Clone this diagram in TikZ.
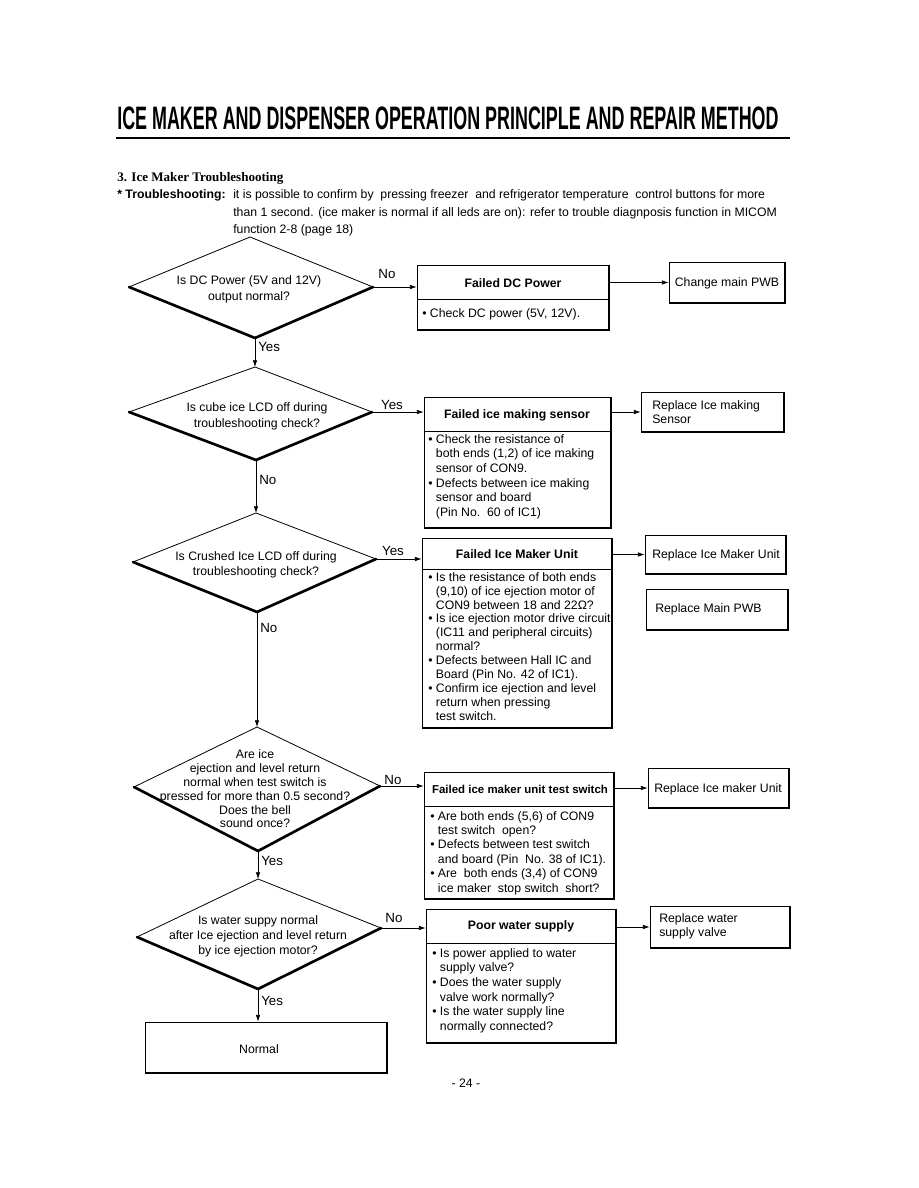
\documentclass[tikz,border=0pt]{standalone}
\usepackage{fontspec}
\setmainfont{Liberation Sans}
\newfontfamily\serifbold{Liberation Serif}
\usetikzlibrary{arrows.meta,fit,calc}
\newcommand\shbox[5]{%
  \node[fit={(#2,#3)(#4,#5)}, boxframe] (#1) {};
  \draw[line width=1.4pt] (#1.north east) -- (#1.south east) -- (#1.south west);}
\newcommand\diam[5]{%
  \draw[line width=0.6pt] (#3) -- (#2) -- (#4);
  \draw[line width=2pt, line join=round, line cap=round] (#3) -- (#5) -- (#4);}
\newcommand\ind{\hphantom{•\ }}
\begin{document}
\begin{tikzpicture}[x=0.75pt,y=-0.75pt,
  arr/.style={-{Latex[length=5pt,width=3.4pt]}, line width=0.5pt},
  boxframe/.style={draw, line width=0.6pt, inner sep=0pt},
  body/.style={font=\fontsize{9.2}{11}\selectfont, inner sep=0pt, align=left, anchor=north west},
  ctext/.style={font=\fontsize{9.2}{11}\selectfont, inner sep=0pt, align=center},
  btitle/.style={font=\fontsize{9.2}{11}\selectfont\bfseries, inner sep=0pt},
  lab/.style={font=\fontsize{10}{12}\selectfont, inner sep=0pt}]
\fill[white] (0,0) rectangle (918,1188);
\useasboundingbox (0,0) rectangle (918,1188);

% ---- header
\node[anchor=base west, inner sep=0pt] (title) at (117,129)
  {\resizebox{496pt}{17pt}{\bfseries ICE MAKER AND DISPENSER OPERATION PRINCIPLE AND REPAIR METHOD}};
\draw[line width=2.2pt] (116,138) -- (790,138);
\node[anchor=base west, inner sep=0pt] (sec) at (117,181)
  {\serifbold\bfseries\fontsize{9.8}{12}\selectfont 3. Ice Maker Troubleshooting};
\node[anchor=base west, inner sep=0pt, font=\fontsize{9.2}{11}\selectfont\bfseries] (ts) at (117,198) {* Troubleshooting:};
\node[anchor=base west, inner sep=0pt, font=\fontsize{9.2}{11}\selectfont] (tl1) at (233,198)
  {it is possible to confirm by\ \ pressing freezer\ \ and refrigerator temperature\ \ control buttons\ for more};
\node[anchor=base west, inner sep=0pt, font=\fontsize{9.2}{11}\selectfont] (tl2) at (233,216)
  {than 1 second. (ice maker is normal if all leds are on): refer to trouble diagnposis function in MICOM};
\node[anchor=base west, inner sep=0pt, font=\fontsize{9.2}{11}\selectfont] (tl3) at (233,233)
  {function 2-8 (page 18)};

% ---- diamonds
\coordinate (d1t) at (250,237); \coordinate (d1l) at (129,287); \coordinate (d1r) at (373,287); \coordinate (d1b) at (255,338);
\coordinate (d2t) at (255,367); \coordinate (d2l) at (129,412); \coordinate (d2r) at (372,412); \coordinate (d2b) at (256,460);
\coordinate (d3t) at (256,513); \coordinate (d3l) at (133,562); \coordinate (d3r) at (376,559); \coordinate (d3b) at (257,612);
\coordinate (d4t) at (257,727); \coordinate (d4l) at (134,787); \coordinate (d4r) at (380,786); \coordinate (d4b) at (258,851);
\coordinate (d5t) at (258,879); \coordinate (d5l) at (137,937); \coordinate (d5r) at (381,928); \coordinate (d5b) at (258,989);
\diam{d1}{d1t}{d1l}{d1r}{d1b}
\diam{d2}{d2t}{d2l}{d2r}{d2b}
\diam{d3}{d3t}{d3l}{d3r}{d3b}
\diam{d4}{d4t}{d4l}{d4r}{d4b}
\diam{d5}{d5t}{d5l}{d5r}{d5b}

\node[ctext, font=\fontsize{9.2}{12}\selectfont] (q1) at (249,289) {Is DC Power (5V and 12V)\\output normal?};
\node[ctext, font=\fontsize{9.2}{12}\selectfont] (q2) at (257,416) {Is cube ice LCD off during\\troubleshooting check?};
\node[ctext, font=\fontsize{9.2}{11.25}\selectfont] (q3) at (256,565) {Is Crushed Ice LCD off during\\troubleshooting check?};
\node[ctext, font=\fontsize{9.2}{10.35}\selectfont] (q4) at (255,789) {Are ice\\ejection and level return\\normal when test switch is\\pressed for more than 0.5 second?\\Does the bell\\sound once?};
\node[ctext, font=\fontsize{9.2}{11.25}\selectfont] (q5) at (258,936) {Is water suppy normal\\after Ice ejection and level return\\by ice ejection motor?};

% ---- boxes
\shbox{b1}{417}{265}{609}{330}
\draw[line width=0.6pt] (417,299) -- (609,299);
\node[btitle] (b1t) at (513,283) {Failed DC Power};
\node[body] (b1x) at (422,308) {• Check DC power (5V, 12V).};
\shbox{c1}{669}{262}{785}{303}
\node[ctext] (c1x) at (727,283) {Change main PWB};

\shbox{b2}{424}{397}{611}{528}
\draw[line width=0.6pt] (424,431) -- (611,431);
\node[btitle] (b2t) at (517,415) {Failed ice making sensor};
\node[body] (b2x) at (428,434) {• Check the resistance of\\\ind both ends (1,2) of ice making\\\ind sensor of CON9.\\• Defects between ice making\\\ind sensor and board\\\ind (Pin No.\ \ 60 of IC1)};
\shbox{c2}{641}{392}{784}{432}
\node[body] (c2x) at (652,400) {Replace Ice making\\Sensor};

\shbox{b3}{422}{538}{612}{728}
\draw[line width=0.6pt] (422,569) -- (612,569);
\node[btitle] (b3t) at (517,554) {Failed Ice Maker Unit};
\node[body, font=\fontsize{9.2}{10.45}\selectfont] (b3x) at (428,572) {• Is the resistance of both ends\\\ind(9,10) of ice ejection motor of\\\ind CON9 between 18 and 22Ω?\\• Is ice ejection motor drive circuit\\\ind(IC11 and peripheral circuits)\\\ind normal?\\• Defects between Hall IC and\\\ind Board (Pin No. 42 of IC1).\\• Confirm ice ejection and level\\\ind return when pressing\\\ind test switch.};
\shbox{c3}{645}{535}{786}{574}
\node[ctext] (c3x) at (716,555) {Replace Ice Maker Unit};
\shbox{c3b}{646}{589}{788}{630}
\node[body] (c3bx) at (655,603) {Replace Main PWB};

\shbox{b4}{424}{772}{614}{899}
\draw[line width=0.6pt] (424,806) -- (614,806);
\node[btitle, font=\fontsize{8.6}{11}\selectfont\bfseries] (b4t) at (520,789) {Failed ice maker unit test switch};
\node[body, font=\fontsize{9.2}{10.8}\selectfont] (b4x) at (430,811) {• Are both ends (5,6) of CON9\\\ind test switch\ \ open?\\• Defects between test switch\\\ind and board (Pin\ \ No. 38 of IC1).\\• Are\ \ both ends (3,4) of CON9\\\ind ice maker\ \ stop switch\ \ short?};
\shbox{c4}{648}{768}{789}{808}
\node[ctext] (c4x) at (718,789) {Replace Ice maker Unit};

\shbox{b5}{426}{909}{616}{1043}
\draw[line width=0.6pt] (426,943) -- (616,943);
\node[btitle] (b5t) at (521,926) {Poor water supply};
\node[body] (b5x) at (432,948) {• Is power applied to water\\\ind supply valve?\\• Does the water supply\\\ind valve work normally?\\• Is the water supply line\\\ind normally connected?};
\shbox{c5}{650}{906}{790}{948}
\node[body] (c5x) at (659,913) {Replace water\\supply valve};

\shbox{nb}{145}{1022}{387}{1073}
\node[ctext] (nbx) at (259,1049) {Normal};

% ---- connectors
\draw[arr] (d1r) -- (d1r -| b1.west);
\draw[arr] (b1.east |- c1.west) -- (c1.west);
\draw[arr] (d1b) -- (d2t);
\draw[arr] (d2r) -- (d2r -| b2.west);
\draw[arr] (b2.east |- c2.west) -- (c2.west);
\draw[arr] (d2b) -- (d3t);
\draw[arr] (d3r) -- (d3r -| b3.west);
\draw[arr] (b3.east |- c3.west) -- (c3.west);
\draw[arr] (d3b) -- (d4t);
\draw[arr] (d4r) -- (d4r -| b4.west);
\draw[arr] (b4.east |- c4.west) -- (c4.west);
\draw[arr] (d4b) -- (d5t);
\draw[arr] (d5r) -- (d5r -| b5.west);
\draw[arr] (b5.east |- c5.west) -- (c5.west);
\draw[arr] (d5b) -- (d5b |- nb.north);

% ---- labels
\node[lab] (l1) at (387,274) {No};
\node[lab, anchor=west] (l2) at (258,347) {Yes};
\node[lab] (l3) at (392,405) {Yes};
\node[lab, anchor=west] (l4) at (259,480) {No};
\node[lab] (l5) at (393,551) {Yes};
\node[lab, anchor=west] (l6) at (260,628) {No};
\node[lab] (l7) at (393,780) {No};
\node[lab, anchor=west] (l8) at (261,861) {Yes};
\node[lab] (l9) at (394,918) {No};
\node[lab, anchor=west] (l10) at (261,1001) {Yes};

\node[ctext] (pg) at (466,1083) {- 24 -};
\end{tikzpicture}
\end{document}
